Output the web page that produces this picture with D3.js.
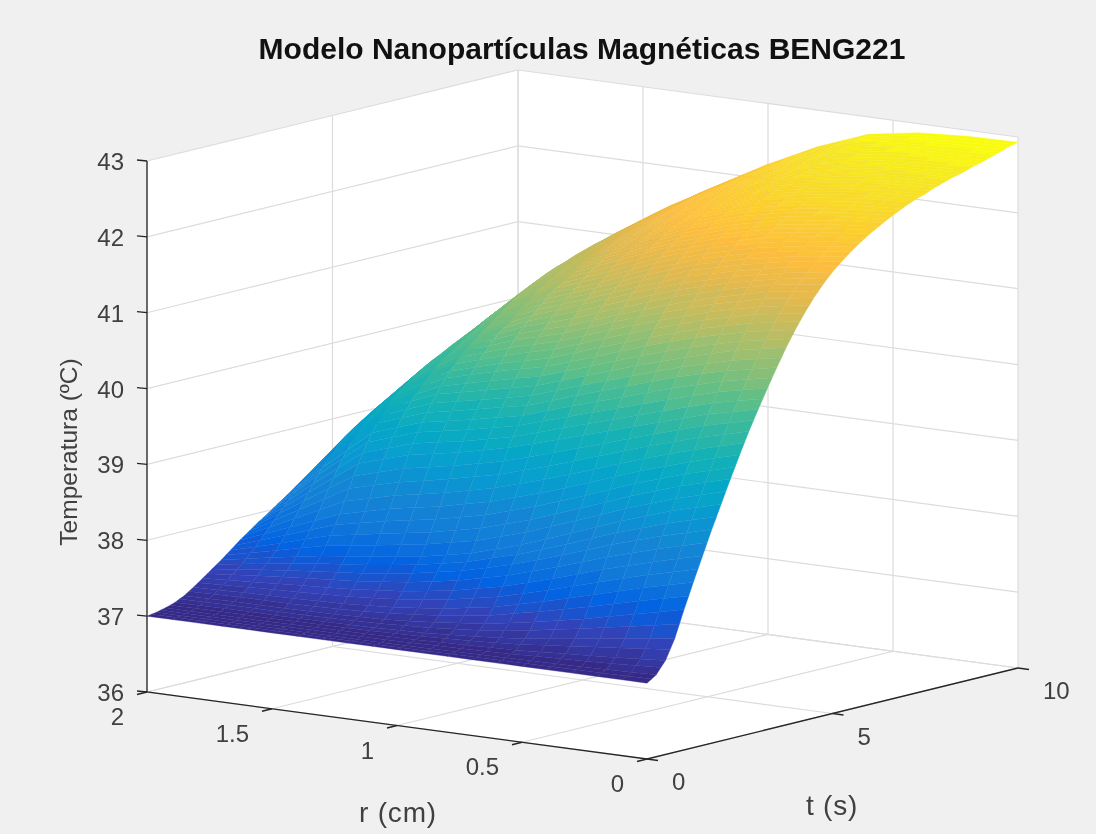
<!DOCTYPE html>
<html>
<head>
<meta charset="utf-8">
<script src="https://cdn.jsdelivr.net/npm/d3@7"></script>
<style>
html,body{margin:0;padding:0;background:#f0f0f0;}
svg{display:block;filter:blur(0.45px);}
text{font-family:"Liberation Sans",Arial,sans-serif;}
</style>
</head>
<body>
<svg id="chart" width="1096" height="834"></svg>
<script>
const titleText = "Modelo Nanopartículas Magnéticas BENG221";
const rLabel = "r (cm)";
const tLabel = "t (s)";
const zLabel = "Temperatura (ºC)";

const rTicks = [0, 0.5, 1, 1.5, 2];
const tTicks = [0, 5, 10];
const zTicks = [36, 37, 38, 39, 40, 41, 42, 43];

const rValues = [0, 0.2, 0.4, 0.6, 0.8, 1, 1.2, 1.4, 1.6, 1.8, 2];
const tValues = [0,0.25,0.5,0.75,1,1.25,1.5,1.75,2,2.25,2.5,2.75,3,3.25,3.5,3.75,4,4.25,4.5,4.75,5,5.25,5.5,5.75,6,6.25,6.5,6.75,7,7.25,7.5,7.75,8,8.25,8.5,8.75,9,9.25,9.5,9.75,10];
// temperature: one row per t, one column per r
const temperature = [
[37.00,37.00,37.00,37.00,37.00,37.00,37.00,37.00,37.00,37.00,37.00],
[37.08,37.06,37.05,37.04,37.03,37.02,37.02,37.02,37.02,37.02,37.02],
[37.24,37.19,37.15,37.11,37.09,37.07,37.06,37.06,37.05,37.05,37.05],
[37.50,37.41,37.32,37.23,37.17,37.13,37.11,37.10,37.10,37.10,37.09],
[37.85,37.70,37.55,37.42,37.31,37.24,37.19,37.17,37.16,37.16,37.15],
[38.18,38.02,37.84,37.66,37.50,37.39,37.32,37.28,37.26,37.25,37.23],
[38.50,38.33,38.14,37.93,37.74,37.60,37.50,37.44,37.40,37.36,37.32],
[38.82,38.64,38.44,38.21,38.00,37.83,37.71,37.62,37.56,37.49,37.41],
[39.12,38.94,38.72,38.47,38.23,38.03,37.90,37.81,37.73,37.62,37.50],
[39.42,39.24,39.02,38.77,38.53,38.33,38.19,38.08,37.97,37.78,37.60],
[39.71,39.53,39.32,39.08,38.85,38.65,38.50,38.38,38.22,37.96,37.70],
[39.99,39.82,39.62,39.40,39.18,38.98,38.83,38.70,38.53,38.16,37.79],
[40.25,40.10,39.90,39.70,39.50,39.30,39.15,39.03,38.83,38.36,37.88],
[40.50,40.36,40.17,39.97,39.77,39.56,39.42,39.30,39.08,38.56,37.96],
[40.74,40.61,40.44,40.23,40.02,39.80,39.66,39.53,39.30,38.72,38.05],
[40.97,40.85,40.67,40.47,40.25,40.03,39.88,39.74,39.47,38.86,38.13],
[41.18,41.06,40.90,40.70,40.47,40.25,40.10,39.92,39.60,38.98,38.22],
[41.37,41.26,41.10,40.90,40.68,40.45,40.28,40.08,39.71,39.07,38.29],
[41.54,41.44,41.28,41.08,40.87,40.63,40.45,40.22,39.80,39.15,38.36],
[41.69,41.59,41.44,41.26,41.03,40.80,40.60,40.32,39.88,39.23,38.43],
[41.82,41.72,41.58,41.41,41.19,40.95,40.72,40.42,39.95,39.30,38.50],
[41.93,41.84,41.71,41.55,41.32,41.07,40.84,40.52,40.01,39.37,38.56],
[42.03,41.95,41.83,41.67,41.45,41.18,40.95,40.60,40.08,39.44,38.63],
[42.12,42.05,41.94,41.78,41.57,41.30,41.05,40.71,40.14,39.51,38.69],
[42.20,42.14,42.04,41.88,41.68,41.42,41.15,40.80,40.20,39.58,38.75],
[42.27,42.21,42.12,41.97,41.77,41.50,41.23,40.86,40.26,39.65,38.81],
[42.34,42.29,42.20,42.06,41.86,41.58,41.30,40.92,40.33,39.72,38.88],
[42.40,42.35,42.27,42.14,41.93,41.65,41.36,40.98,40.39,39.78,38.94],
[42.46,42.42,42.34,42.22,42.00,41.72,41.42,41.03,40.45,39.85,39.00],
[42.51,42.47,42.40,42.28,42.06,41.78,41.47,41.07,40.50,39.91,39.06],
[42.55,42.52,42.45,42.33,42.11,41.83,41.52,41.12,40.55,39.97,39.12],
[42.60,42.57,42.50,42.38,42.17,41.89,41.57,41.16,40.60,40.03,39.19],
[42.64,42.61,42.55,42.43,42.22,41.95,41.62,41.20,40.65,40.08,39.25],
[42.68,42.65,42.59,42.47,42.26,41.99,41.66,41.23,40.69,40.12,39.31],
[42.71,42.68,42.63,42.51,42.30,42.03,41.69,41.27,40.74,40.15,39.38],
[42.75,42.72,42.67,42.55,42.34,42.06,41.72,41.30,40.78,40.19,39.44],
[42.78,42.76,42.72,42.61,42.38,42.10,41.74,41.33,40.82,40.22,39.50],
[42.82,42.80,42.76,42.65,42.42,42.12,41.76,41.35,40.85,40.25,39.56],
[42.86,42.84,42.80,42.69,42.45,42.15,41.79,41.38,40.88,40.29,39.63],
[42.90,42.88,42.84,42.73,42.49,42.17,41.81,41.40,40.92,40.32,39.69],
[42.93,42.92,42.88,42.77,42.52,42.20,41.83,41.43,40.95,40.35,39.75]
];

const paletteStops = [0, 4, 8, 12, 16, 20, 24, 28, 32, 36, 40, 44, 48, 52, 56, 60, 63];
const paletteColors = ["#352a87","#3243b9","#0363e1","#117ad9","#1485d4","#0998d1","#06a7c6","#15b1b4","#38b99e","#65bf85","#92bf73","#bcbd63","#e1b94f","#fcbd3e","#fbcf2e","#f5e523","#f9fb0e"];

// ---- oblique projection built from scales
const rToX = d3.scaleLinear().domain([0, 2]).range([500, 0]);
const rToY = d3.scaleLinear().domain([0, 2]).range([67, 0]);
const tToX = d3.scaleLinear().domain([0, 10]).range([0, 371]);
const tToY = d3.scaleLinear().domain([0, 10]).range([0, -91]);
const zToY = d3.scaleLinear().domain([36, 43]).range([0, -531]);
const ox = 147, oy = 692;
const rMin = 0, rMax = 2, tMin = 0, tMax = 10, zMin = 36, zMax = 43;
function project(r, t, z) {
  return [ox + rToX(r) + tToX(t), oy + rToY(r) + tToY(t) + zToY(z)];
}

const svg = d3.select("#chart");
const line = d3.line();
const closed = d3.line().curve(d3.curveLinearClosed);

// ---- box background
svg.append("path")
  .attr("d", closed([project(rMax,tMin,zMin),project(rMax,tMin,zMax),project(rMax,tMax,zMax),project(rMin,tMax,zMax),project(rMin,tMax,zMin),project(rMin,tMin,zMin)]))
  .attr("fill", "#ffffff");

// ---- gridlines
const gridColor = "#dcdcdc";
const gridG = svg.append("g").attr("fill","none").attr("stroke",gridColor).attr("stroke-width",1.2);
const gl = pts => gridG.append("path").attr("d", line(pts));
zTicks.forEach(z => {
  gl([project(rMax,tMin,z), project(rMax,tMax,z), project(rMin,tMax,z)]);
});
rTicks.forEach(r => {
  gl([project(r,tMin,zMin), project(r,tMax,zMin), project(r,tMax,zMax)]);
});
tTicks.forEach(t => {
  gl([project(rMin,t,zMin), project(rMax,t,zMin), project(rMax,t,zMax)]);
});

// ---- surface: each data cell is shaded in small patches with a 64 level
// colour map, so the colour steps stay fine
const levelColor = d3.scaleLinear().domain(paletteStops).range(paletteColors).interpolate(d3.interpolateRgb);
const zLo = d3.min(temperature, row => d3.min(row));
const zHi = d3.max(temperature, row => d3.max(row));
const levels = d3.scaleQuantize().domain([zLo, zHi]).range(d3.range(64));
const stripsR = 2, stripsT = 2;
const facets = [];
for (let i = tValues.length - 2; i >= 0; i--) {
  for (let m = stripsT - 1; m >= 0; m--) {
    for (let j = rValues.length - 2; j >= 0; j--) {
      for (let k = stripsR - 1; k >= 0; k--) facets.push({i, j, k, m});
    }
  }
}
function cellPoint(f, u, v) {
  const r = d3.interpolateNumber(rValues[f.j], rValues[f.j+1])(u);
  const t = d3.interpolateNumber(tValues[f.i], tValues[f.i+1])(v);
  const low = d3.interpolateNumber(temperature[f.i][f.j], temperature[f.i][f.j+1])(u);
  const high = d3.interpolateNumber(temperature[f.i+1][f.j], temperature[f.i+1][f.j+1])(u);
  return [r, t, d3.interpolateNumber(low, high)(v)];
}
function facetCorners(f) {
  const a = f.k / stripsR, b = (f.k + 1) / stripsR, c = f.m / stripsT, d = (f.m + 1) / stripsT;
  return [cellPoint(f, a, c), cellPoint(f, b, c), cellPoint(f, b, d), cellPoint(f, a, d)];
}
function facetColor(f) {
  return levelColor(levels(d3.mean(facetCorners(f), c => c[2])));
}
svg.append("g").selectAll("path").data(facets).join("path")
  .attr("d", f => closed(facetCorners(f).map(c => project(c[0], c[1], c[2]))))
  .attr("fill", facetColor)
  .attr("stroke", facetColor)
  .attr("stroke-width", 0.35)
  .attr("stroke-linejoin", "round");

// ---- axes
const axisColor = "#262626";
const axisG = svg.append("g").attr("fill","none").attr("stroke",axisColor).attr("stroke-width",1.3);
axisG.append("path").attr("d", line([project(rMax,tMin,zMax), project(rMax,tMin,zMin), project(rMin,tMin,zMin), project(rMin,tMax,zMin)]));
zTicks.forEach(z => {
  const a = project(rMax,tMin,z);
  axisG.append("path").attr("d", line([a, [a[0]-10, a[1]-1]]));
});
rTicks.forEach(r => {
  const a = project(r,tMin,zMin);
  axisG.append("path").attr("d", line([a, [a[0]-10, a[1]+2.5]]));
});
tTicks.forEach(t => {
  const a = project(rMin,t,zMin);
  axisG.append("path").attr("d", line([a, [a[0]+11, a[1]+1.5]]));
});

// ---- text
const labelColor = "#404040";
const addText = (s, x, y, size, anchor) =>
  svg.append("text").attr("x", x).attr("y", y).attr("font-size", size)
    .attr("text-anchor", anchor).attr("fill", labelColor).text(s);
zTicks.forEach(z => {
  const a = project(rMax,tMin,z);
  addText(String(z), a[0]-23, a[1]+9, 24, "end");
});
rTicks.forEach(r => {
  const a = project(r,tMin,zMin);
  addText(String(r), a[0]-23, a[1]+33, 24, "end");
});
tTicks.forEach(t => {
  const a = project(rMin,t,zMin);
  addText(String(t), a[0]+25, a[1]+31, 24, "start");
});
addText(rLabel, 398, 822, 28, "middle").attr("letter-spacing", 0.8);
addText(tLabel, 832, 815, 28, "middle").attr("letter-spacing", 0.8);
addText(zLabel, 0, 0, 24.5, "middle").attr("transform", "translate(77,452) rotate(-90)");
svg.append("text").attr("x", 582).attr("y", 59).attr("font-size", 30).attr("font-weight", "bold")
  .attr("text-anchor", "middle").attr("fill", "#111111").text(titleText);
</script>
</body>
</html>
